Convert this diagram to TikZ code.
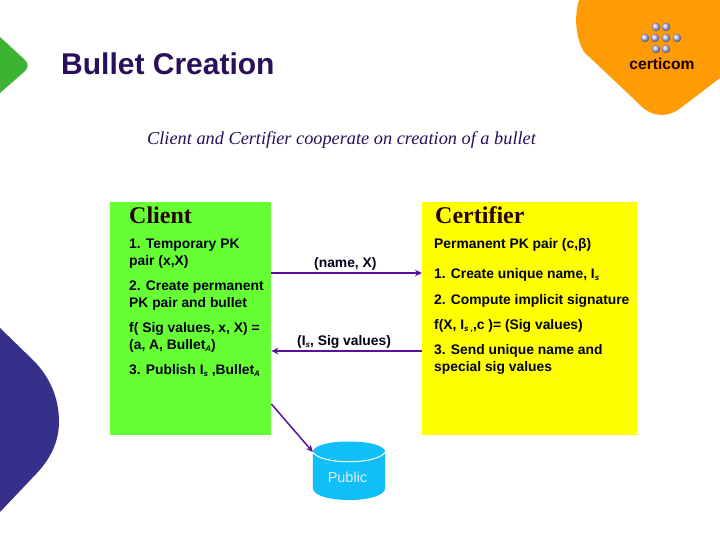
\documentclass[tikz,border=0pt]{standalone}
\usepackage{fontspec}
\setmainfont{Liberation Serif}
\setsansfont{Liberation Sans}
\usetikzlibrary{arrows.meta}
\definecolor{titlecol}{HTML}{2A0F5A}
\definecolor{subcol}{HTML}{2A0F5A}
\definecolor{clientgreen}{HTML}{66FF33}
\definecolor{certyellow}{HTML}{FFFF00}
\definecolor{arrowcol}{HTML}{5A0F9E}
\definecolor{pubblue}{HTML}{0FBFF5}
\definecolor{logoorange}{HTML}{FF9C05}
\definecolor{leafgreen}{HTML}{3CB332}
\definecolor{leafpurple}{HTML}{37308A}
\newcommand{\lowidx}[1]{\raisebox{-2.5pt}{\fontsize{8}{8}\selectfont\itshape #1}}
\tikzset{
  box/.style={draw=none,inner sep=0pt,minimum width=#1,minimum height=233pt,anchor=north west},
  head/.style={anchor=base west,inner sep=0pt,font=\fontsize{24}{24}\selectfont\bfseries,text=black!85!red},
  body/.style={anchor=base west,inner sep=0pt,font=\fontsize{13.85}{16}\selectfont\sffamily\bfseries,text=black!90!blue},
  link/.style={draw=arrowcol,line width=1.5pt,-{Stealth[length=7pt,width=6.5pt]}},
  ball/.style={circle,inner sep=0pt,minimum size=8.5pt,shading=ball,ball color=blue!25!white},
}
\begin{document}
\begin{tikzpicture}[x=1pt,y=-1pt]
\useasboundingbox (0,0) rectangle (720,540);
\fill[white] (0,0) rectangle (720,540);
% decorative shapes
\fill[leafgreen] (0,37) -- (24,59) .. controls (29,64) and (29,67) .. (24,72) -- (0,93) -- cycle;
\fill[leafpurple] (0,328) -- (33,360) .. controls (50,377) and (59,398) .. (59,422)
   .. controls (59,442) and (50,459) .. (37,473) -- (0,512) -- cycle;
\fill[logoorange] (579,0) .. controls (575,12) and (574,35) .. (584,52)
   -- (637,102) .. controls (650,117) and (665,118) .. (678,110) -- (720,78) -- (720,0) -- cycle;
% logo
\foreach \px/\py in {656/27,666/27,645/38,655/38,666/38,677/38,656/49,666/49}
  \node[ball] at (\px,\py) {};
\node[anchor=base,inner sep=0pt,font=\fontsize{15.6}{16}\selectfont\bfseries\sffamily,text=black!90!red] (logo) at (662,70) {certicom};
% title
\node[anchor=base west,inner sep=0pt,font=\fontsize{30}{32}\selectfont\sffamily\bfseries,text=titlecol] (title) at (61,75) {Bullet Creation};
\node[anchor=base west,inner sep=0pt,font=\fontsize{18.3}{20}\selectfont\itshape,text=subcol] (sub) at (147,145) {Client and Certifier cooperate on creation of a bullet};
% boxes
\node[box=161pt,fill=clientgreen] (client) at (110,202) {};
\node[box=215pt,fill=certyellow] (cert) at (422,202) {};
\node[head] (chead) at (129,223) {Client};
\node[head] (rhead) at (435,223) {Certifier};
% client text
\node[body] (c1) at (129,248) {1. Temporary PK};
\node[body] (c2) at (129,265) {pair (x,X)};
\node[body] (c3) at (129,290) {2. Create permanent};
\node[body] (c4) at (129,307) {PK pair and bullet};
\node[body] (c5) at (129,332) {f( Sig values, x, X) =};
\node[body] (c6) at (129,349) {(a, A, Bullet\lowidx{A})};
\node[body] (c7) at (129,374) {3. Publish I\lowidx{s} ,Bullet\lowidx{A}};
% certifier text
\node[body] (r1) at (434,248) {Permanent PK pair (c,β)};
\node[body] (r2) at (434,278) {1. Create unique name, I\lowidx{s}};
\node[body] (r3) at (434,304) {2. Compute implicit signature};
\node[body] (r4) at (434,329) {f(X, I\lowidx{s ,},c )= (Sig values)};
\node[body] (r5) at (434,354) {3. Send unique name and};
\node[body] (r6) at (434,371) {special sig values};
% public store
\node[draw=none,inner sep=0pt,minimum width=72pt,minimum height=58pt] (pub) at (349,471) {};
\fill[pubblue] (pub.west |- 0,452) .. controls (313,438) and (385,438) .. (pub.east |- 0,452)
  -- (pub.east |- 0,488) .. controls (385,504) and (313,504) .. (pub.west |- 0,488) -- cycle;
\draw[white,line width=1pt] (pub.west |- 0,452) .. controls (320,465) and (378,465) .. (pub.east |- 0,452);
\node[anchor=base,inner sep=0pt,font=\fontsize{14.5}{16}\selectfont\sffamily,text=white!92!blue] (publabel) at (347.5,482) {Public};
% connectors
\coordinate (a1s) at (client.east |- 0,273);
\coordinate (a1e) at (cert.west |- 0,273);
\coordinate (a2s) at (cert.west |- 0,351);
\coordinate (a2e) at (client.east |- 0,351);
\coordinate (a3s) at (client.east |- 0,404);
\coordinate (a3e) at (pub.west |- 0,452);
\draw[link] (a1s) -- (a1e);
\draw[link] (a2s) -- (a2e);
\draw[link] (a3s) -- (a3e);
\node[body] (l1) at (314,267) {(name, X)};
\node[body] (l2) at (297,345) {(I\lowidx{s}, Sig values)};
\end{tikzpicture}
\end{document}
